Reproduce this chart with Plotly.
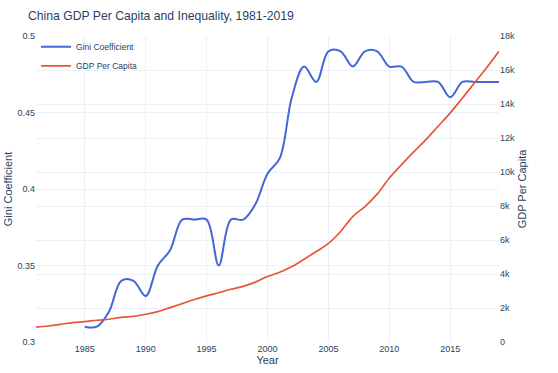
import plotly.graph_objects as go

years_gini = list(range(1985, 2020))
gini = [0.31, 0.31, 0.32, 0.34, 0.34, 0.33, 0.35, 0.36, 0.38, 0.38,
        0.38, 0.35, 0.38, 0.38, 0.39, 0.41, 0.42, 0.46, 0.48, 0.47,
        0.49, 0.49, 0.48, 0.49, 0.49, 0.48, 0.48, 0.47, 0.47, 0.47,
        0.46, 0.47, 0.47, 0.47, 0.47]

years_gdp = list(range(1981, 2020))
gdp = [870, 940, 1040, 1140, 1200, 1280, 1340, 1450, 1510, 1630,
       1790, 2020, 2260, 2500, 2710, 2900, 3100, 3270, 3520, 3850,
       4100, 4440, 4870, 5320, 5800, 6500, 7380, 7970, 8700, 9650,
       10430, 11180, 11900, 12690, 13480, 14350, 15250, 16150, 17100]

FONT = "Liberation Sans, Arial, sans-serif"
BLUE = "#4466d6"
RED = "#e8553a"

fig = go.Figure()
fig.add_trace(go.Scatter(x=years_gini, y=gini, name="Gini Coefficient",
                         mode="lines", line=dict(color=BLUE, width=2, shape="spline")))
fig.add_trace(go.Scatter(x=years_gdp, y=gdp, name="GDP Per Capita", yaxis="y2",
                         mode="lines", line=dict(color=RED, width=1.7, shape="spline")))

fig.update_layout(
    template="plotly_white",
    width=558, height=373,
    margin=dict(l=36, r=59, t=36, b=31),
    font=dict(family=FONT, size=9, color="#2a3f5f"),
    title=dict(text="China GDP Per Capita and Inequality, 1981-2019",
               x=28/558, xanchor="left", y=1-16/373, yanchor="middle",
               font=dict(size=12.2, family=FONT, color="#2a3f5f")),
    xaxis=dict(title=dict(text="Year", font=dict(size=11), standoff=1),
               range=[1981, 2019], dtick=5, tick0=1985, automargin=False,
               tickfont=dict(size=9), showline=False, zeroline=False),
    yaxis=dict(title=dict(text="Gini Coefficient", font=dict(size=11), standoff=2),
               range=[0.3, 0.5], dtick=0.05, tickfont=dict(size=9), zeroline=False,
               automargin=False),
    yaxis2=dict(title=dict(text="GDP Per Capita", font=dict(size=11), standoff=4),
                overlaying="y", side="right", range=[0, 18000], dtick=2000,
                tickfont=dict(size=9), zeroline=False, showgrid=True,
                gridcolor="#EBF0F8", automargin=False),
    legend=dict(x=0.0, y=1.012, xanchor="left", yanchor="top",
                bgcolor="rgba(255,255,255,0)", font=dict(size=8.5),
                tracegroupgap=0),
    showlegend=True,
)

fig.write_html("out.html", config={"displayModeBar": False},
               post_script="document.body.style.margin='0';document.body.style.padding='0';")
